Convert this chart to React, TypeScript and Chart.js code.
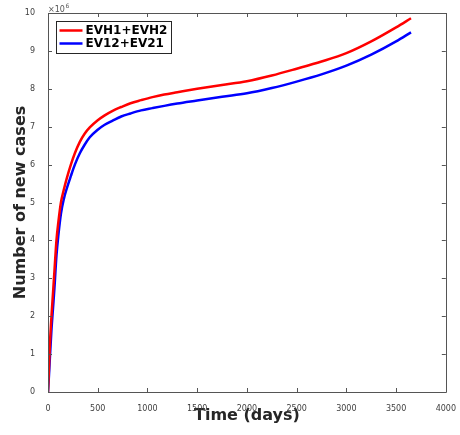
import React, { useEffect, useRef } from 'react';
import { Chart, registerables } from 'chart.js';

Chart.register(...registerables);

// Time (days)
const days = [0, 10, 20, 35, 50, 65, 85, 105, 130, 160, 190, 230, 270, 320, 370, 420, 500, 570, 650, 736, 830, 936, 1050, 1169, 1300, 1500, 1750, 2000, 2250, 2500, 2750, 3000, 3250, 3500, 3650];
// Number of new cases (x10^6)
const evh1evh2 = [0, 0.65, 1.3, 2.0, 2.6, 3.2, 4.0, 4.5, 5.0, 5.35, 5.65, 6.0, 6.3, 6.6, 6.82, 6.98, 7.17, 7.3, 7.42, 7.52, 7.62, 7.7, 7.78, 7.85, 7.91, 8.0, 8.1, 8.2, 8.35, 8.53, 8.72, 8.94, 9.25, 9.62, 9.86];
const ev12ev21 = [0, 0.45, 0.95, 1.65, 2.2, 2.75, 3.6, 4.15, 4.7, 5.1, 5.38, 5.7, 6.0, 6.3, 6.53, 6.72, 6.92, 7.05, 7.16, 7.27, 7.35, 7.43, 7.49, 7.55, 7.61, 7.69, 7.79, 7.88, 8.02, 8.19, 8.38, 8.61, 8.9, 9.25, 9.49];

const seriesLabels = ['EVH1+EVH2', 'EV12+EV21'];
const seriesColors = ['#ff0000', '#0000ff'];

const xTickValues = [0, 500, 1000, 1500, 2000, 2500, 3000, 3500, 4000];
const yTickValues = [0, 1, 2, 3, 4, 5, 6, 7, 8, 9, 10];

const FONT = '"DejaVu Sans", sans-serif';

const boxPlugin = {
  id: 'matlabBox',
  afterDraw(chart: any) {
    const { ctx, chartArea } = chart;
    const { left, right, top, bottom } = chartArea;
    const xs = chart.scales.x;
    const ys = chart.scales.y;
    ctx.save();
    ctx.strokeStyle = '#555555';
    ctx.lineWidth = 1;
    ctx.beginPath();
    ctx.rect(Math.round(left) + 0.5, Math.round(top) + 0.5, Math.round(right - left), Math.round(bottom - top));
    ctx.stroke();
    const tl = 4;
    ctx.beginPath();
    xTickValues.forEach((v) => {
      const px = Math.round(xs.getPixelForValue(v)) + 0.5;
      ctx.moveTo(px, bottom);
      ctx.lineTo(px, bottom - tl);
      ctx.moveTo(px, top);
      ctx.lineTo(px, top + tl);
    });
    yTickValues.forEach((v) => {
      const py = Math.round(ys.getPixelForValue(v)) + 0.5;
      ctx.moveTo(left, py);
      ctx.lineTo(left + tl, py);
      ctx.moveTo(right, py);
      ctx.lineTo(right - tl, py);
    });
    ctx.stroke();

    // exponent label
    ctx.fillStyle = '#555555';
    ctx.textBaseline = 'alphabetic';
    ctx.textAlign = 'left';
    ctx.font = `8px ${FONT}`;
    ctx.fillText('×10', left, top - 1.5);
    const w = ctx.measureText('×10').width;
    ctx.font = `6px ${FONT}`;
    ctx.fillText('6', left + w + 0.5, top - 5);

    // legend
    const bx = Math.round(left) + 8.5;
    const by = Math.round(top) + 8.5;
    const bw = 115;
    const bh = 32;
    ctx.fillStyle = '#ffffff';
    ctx.fillRect(bx, by, bw, bh);
    ctx.strokeStyle = '#262626';
    ctx.lineWidth = 1;
    ctx.strokeRect(bx, by, bw, bh);
    chart.data.datasets.forEach((ds: any, i: number) => {
      const ly = by + 9 + i * 13;
      ctx.strokeStyle = ds.borderColor;
      ctx.lineWidth = 2.5;
      ctx.beginPath();
      ctx.moveTo(bx + 3, ly);
      ctx.lineTo(bx + 26, ly);
      ctx.stroke();
      ctx.fillStyle = '#000000';
      ctx.font = `bold 12px ${FONT}`;
      ctx.textBaseline = 'middle';
      ctx.fillText(ds.label, bx + 29, ly + 0.5);
    });
    ctx.restore();
  },
};

export default function App() {
  const ref = useRef<HTMLCanvasElement>(null);
  useEffect(() => {
    if (!ref.current) return;
    const chart = new Chart(ref.current, {
      type: 'line',
      data: {
        datasets: [
          {
            label: seriesLabels[0],
            data: days.map((d, i) => ({ x: d, y: evh1evh2[i] })),
            borderColor: seriesColors[0],
            backgroundColor: seriesColors[0],
            borderWidth: 2.5,
            pointRadius: 0,
            cubicInterpolationMode: 'monotone',
          },
          {
            label: seriesLabels[1],
            data: days.map((d, i) => ({ x: d, y: ev12ev21[i] })),
            borderColor: seriesColors[1],
            backgroundColor: seriesColors[1],
            borderWidth: 2.5,
            pointRadius: 0,
            cubicInterpolationMode: 'monotone',
          },
        ],
      },
      options: {
        responsive: false,
        animation: false,
        devicePixelRatio: 1,
        layout: { padding: { left: 0, right: 11, top: 13, bottom: 0 } },
        plugins: {
          legend: { display: false },
          tooltip: { enabled: false },
        },
        scales: {
          x: {
            type: 'linear',
            min: 0,
            max: 4000,
            afterBuildTicks: (s: any) => {
              s.ticks = xTickValues.map((v) => ({ value: v }));
            },
            afterFit: (s: any) => {
              s.height = 43;
            },
            grid: { display: false },
            border: { display: false },
            ticks: {
              color: '#404040',
              font: { family: FONT, size: 8 },
              padding: 4,
              maxRotation: 0,
              autoSkip: false,
              callback: (v: any) => String(v),
            },
            title: {
              display: true,
              text: 'Time (days)',
              color: '#262626',
              font: { family: FONT, size: 16, weight: 'bold' },
              padding: { top: 0, bottom: 10 },
            },
          },
          y: {
            type: 'linear',
            min: 0,
            max: 10,
            afterBuildTicks: (s: any) => {
              s.ticks = yTickValues.map((v) => ({ value: v }));
            },
            afterFit: (s: any) => {
              s.width = 48;
            },
            grid: { display: false },
            border: { display: false },
            ticks: {
              color: '#404040',
              font: { family: FONT, size: 8 },
              padding: 5,
              autoSkip: false,
              callback: (v: any) => String(v),
            },
            title: {
              display: true,
              text: 'Number of new cases',
              color: '#262626',
              font: { family: FONT, size: 16, weight: 'bold' },
              padding: { top: 11, bottom: 0 },
            },
          },
        },
      },
      plugins: [boxPlugin],
    });
    return () => chart.destroy();
  }, []);
  return (
    <div style={{ position: 'absolute', left: 0, top: 0, width: 460, height: 435, background: '#ffffff' }}>
      <canvas ref={ref} width={460} height={435} />
    </div>
  );
}
